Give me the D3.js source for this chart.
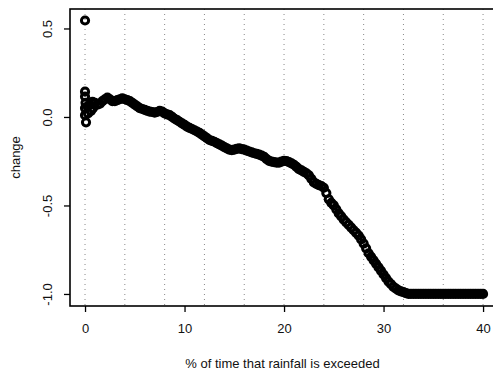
<!DOCTYPE html>
<html>
<head>
<meta charset="utf-8">
<script src="https://cdn.jsdelivr.net/npm/d3@7"></script>
<style>
  body { margin: 0; background: #fff; }
  text { font-family: "Liberation Sans", Arial, sans-serif; fill: #111; }
</style>
</head>
<body>
<div id="chart"></div>
<script>
// values (% of time exceeded vs change)
var xValues = [0, 0.25, 0.5, 0.75, 1, 1.25, 1.5, 1.75, 2, 2.25, 2.5, 2.75, 3, 3.25, 3.5, 3.75,
  4, 4.25, 4.5, 4.75, 5, 5.25, 5.5, 5.75, 6, 6.25, 6.5, 6.75, 7, 7.25, 7.5, 7.75,
  8, 8.25, 8.5, 8.75, 9, 9.25, 9.5, 9.75, 10, 10.25, 10.5, 10.75, 11, 11.25, 11.5, 11.75,
  12, 12.25, 12.5, 12.75, 13, 13.25, 13.5, 13.75, 14, 14.25, 14.5, 14.75, 15, 15.25, 15.5, 15.75,
  16, 16.25, 16.5, 16.75, 17, 17.25, 17.5, 17.75, 18, 18.25, 18.5, 18.75, 19, 19.25, 19.5, 19.75,
  20, 20.25, 20.5, 20.75, 21, 21.25, 21.5, 21.75, 22, 22.25, 22.5, 22.75, 23, 23.25, 23.5, 23.75,
  24, 24.25, 24.5, 24.75, 25, 25.25, 25.5, 25.75, 26, 26.25, 26.5, 26.75, 27, 27.25, 27.5, 27.75,
  28, 28.25, 28.5, 28.75, 29, 29.25, 29.5, 29.75, 30, 30.25, 30.5, 30.75, 31, 31.25, 31.5, 31.75,
  32, 32.25, 32.5, 32.75, 33, 33.25, 33.5, 33.75, 34, 34.25, 34.5, 34.75, 35, 35.25, 35.5, 35.75,
  36, 36.25, 36.5, 36.75, 37, 37.25, 37.5, 37.75, 38, 38.25, 38.5, 38.75, 39, 39.25, 39.5, 39.75, 40];
var yValues = [0.05, 0.06, 0.07, 0.085, 0.08, 0.07, 0.075, 0.09, 0.1, 0.11, 0.1, 0.09, 0.09, 0.095, 0.1, 0.105,
  0.1, 0.095, 0.09, 0.08, 0.07, 0.06, 0.05, 0.045, 0.04, 0.035, 0.03, 0.028, 0.025, 0.028, 0.035, 0.03,
  0.02, 0.015, 0.01, 0, -0.01, -0.018, -0.027, -0.036, -0.045, -0.054, -0.062, -0.068, -0.075, -0.082, -0.09, -0.1,
  -0.11, -0.12, -0.13, -0.135, -0.14, -0.148, -0.155, -0.162, -0.17, -0.178, -0.185, -0.188, -0.185, -0.18, -0.178, -0.182,
  -0.185, -0.19, -0.195, -0.2, -0.205, -0.208, -0.213, -0.218, -0.225, -0.238, -0.248, -0.252, -0.255, -0.258, -0.258, -0.252,
  -0.248, -0.25, -0.255, -0.262, -0.27, -0.282, -0.295, -0.302, -0.31, -0.318, -0.33, -0.35, -0.37, -0.378, -0.385, -0.39,
  -0.4, -0.43, -0.465, -0.485, -0.5, -0.522, -0.545, -0.562, -0.58, -0.595, -0.61, -0.625, -0.64, -0.655, -0.67, -0.692,
  -0.715, -0.742, -0.77, -0.79, -0.81, -0.83, -0.85, -0.87, -0.89, -0.91, -0.93, -0.945, -0.96, -0.97, -0.98, -0.985,
  -0.99, -0.995, -1, -1, -1, -1, -1, -1, -1, -1, -1, -1, -1, -1, -1, -1,
  -1, -1, -1, -1, -1, -1, -1, -1, -1, -1, -1, -1, -1, -1, -1, -1, -1];

// the scattered points near zero
var outlierX = [0, 0, 0, 0.05, 0, 0.1, 0.3, 0.6, 0.8];
var outlierY = [0.545, 0.143, 0.115, 0.08, 0.01, -0.03, 0.02, 0.035, 0.05];

var xTicks = [0, 10, 20, 30, 40];
var yTicks = [0.5, 0, -0.5, -1];
var gridX = [0, 4, 8, 12, 16, 20, 24, 28, 32, 36, 40];

var width = 493, height = 376;
var boxL = 70, boxR = 495, boxT = 9, boxB = 306;

var svg = d3.select("#chart").append("svg")
  .attr("width", width)
  .attr("height", height);

var x = d3.scaleLinear().domain([-1.51, 41.2]).range([boxL, boxR]);
var y = d3.scaleLinear().domain([-1.068, 0.61]).range([boxB, boxT]);

// dotted verticals
svg.append("g").selectAll("line")
  .data(gridX)
  .enter().append("line")
  .attr("x1", function(d){ return x(d); })
  .attr("x2", function(d){ return x(d); })
  .attr("y1", boxT)
  .attr("y2", boxB)
  .attr("stroke", "#888")
  .attr("stroke-width", 1)
  .attr("stroke-dasharray", "1,4");

// points
var pts = xValues.map(function(d, i){ return [d, yValues[i]]; })
  .concat(outlierX.map(function(d, i){ return [d, outlierY[i]]; }));

svg.append("g").selectAll("circle")
  .data(pts)
  .enter().append("circle")
  .attr("cx", function(d){ return x(d[0]); })
  .attr("cy", function(d){ return y(d[1]); })
  .attr("r", 3.6)
  .attr("fill", "none")
  .attr("stroke", "#000")
  .attr("stroke-width", 3);

// box
svg.append("rect")
  .attr("x", boxL)
  .attr("y", boxT)
  .attr("width", boxR - boxL)
  .attr("height", boxB - boxT)
  .attr("fill", "none")
  .attr("stroke", "#000")
  .attr("stroke-width", 1.6);

// axes
var xAxis = svg.append("g")
  .attr("transform", "translate(0," + boxB + ")")
  .call(d3.axisBottom(x).tickValues(xTicks).tickSize(6).tickPadding(12).tickFormat(d3.format("d")));
xAxis.select(".domain").remove();
xAxis.selectAll("text").attr("font-size", 13).attr("font-family", "Liberation Sans, Arial, sans-serif");
xAxis.selectAll("line").attr("stroke-width", 1.3);

var yAxis = svg.append("g")
  .attr("transform", "translate(" + boxL + ",0)")
  .call(d3.axisLeft(y).tickValues(yTicks).tickSize(6).tickFormat(function(d){ return d.toFixed(1); }));
yAxis.select(".domain").remove();
yAxis.selectAll("line").attr("stroke-width", 1.3);
yAxis.selectAll("text")
  .attr("font-size", 13)
  .attr("font-family", "Liberation Sans, Arial, sans-serif")
  .attr("text-anchor", "middle")
  .attr("x", 0)
  .attr("dy", 0)
  .attr("transform", "translate(-18,0) rotate(-90)");

// titles
svg.append("text")
  .attr("x", (boxL + boxR) / 2)
  .attr("y", 368)
  .attr("text-anchor", "middle")
  .attr("font-size", 13)
  .text("% of time that rainfall is exceeded");

svg.append("text")
  .attr("transform", "translate(20," + ((boxT + boxB) / 2) + ") rotate(-90)")
  .attr("text-anchor", "middle")
  .attr("font-size", 13)
  .text("change");
</script>
</body>
</html>
